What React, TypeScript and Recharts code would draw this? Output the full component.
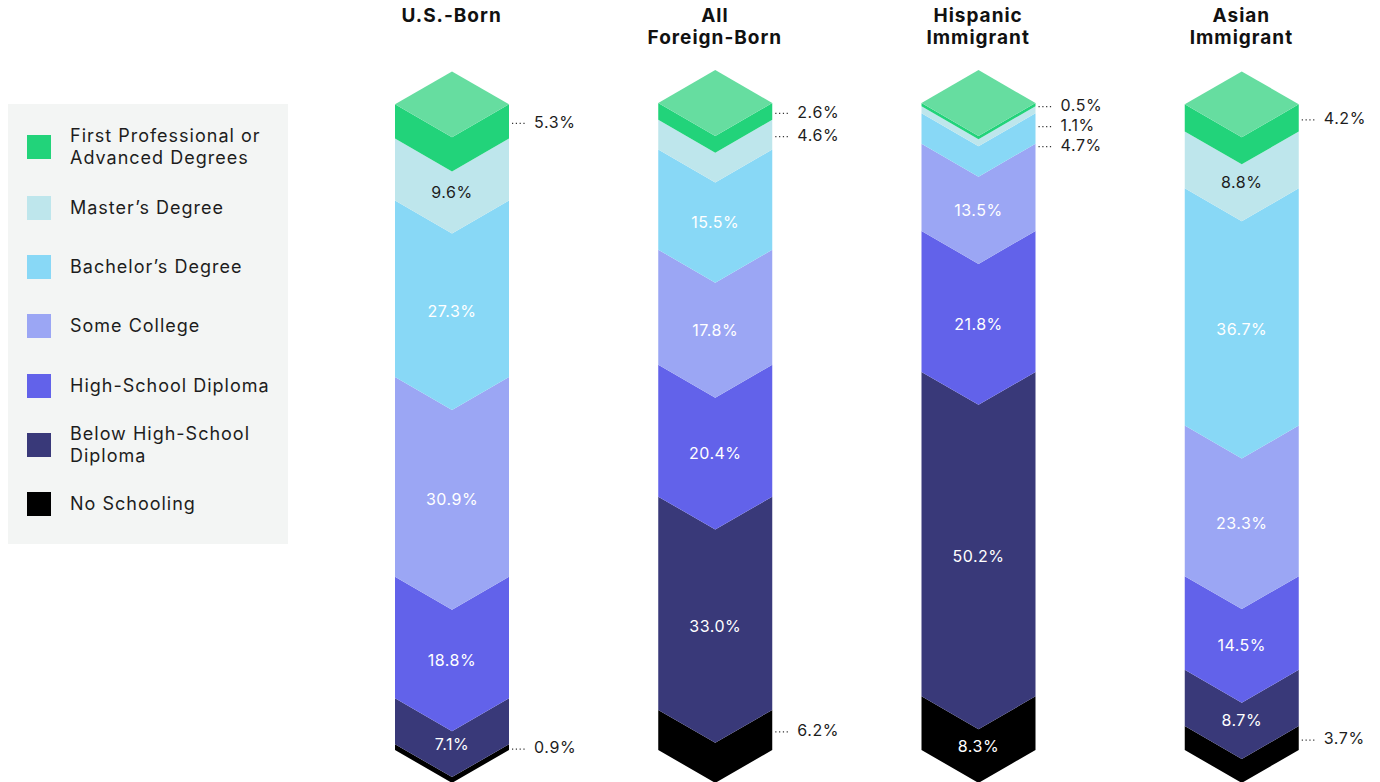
import React from 'react';
import { BarChart, Bar, XAxis, YAxis, LabelList } from 'recharts';

const groups = ['U.S.-Born', 'All Foreign-Born', 'Hispanic Immigrant', 'Asian Immigrant'];
const titleLines = [['U.S.-Born'], ['All', 'Foreign-Born'], ['Hispanic', 'Immigrant'], ['Asian', 'Immigrant']];

// values per group, in % (bottom of stack first)
const noSchooling = [0.9, 6.2, 8.3, 3.7];
const belowHS = [7.1, 33.0, 50.2, 8.7];
const hsDiploma = [18.8, 20.4, 21.8, 14.5];
const someCollege = [30.9, 17.8, 13.5, 23.3];
const bachelors = [27.3, 15.5, 4.7, 36.7];
const masters = [9.6, 4.6, 1.1, 8.8];
const professional = [5.3, 2.6, 0.5, 4.2];

const series = [
  { key: 'noSchooling', name: 'No Schooling', color: '#000000' },
  { key: 'belowHS', name: 'Below High-School Diploma', color: '#393979' },
  { key: 'hsDiploma', name: 'High-School Diploma', color: '#6262EA' },
  { key: 'someCollege', name: 'Some College', color: '#9BA6F4' },
  { key: 'bachelors', name: 'Bachelor\u2019s Degree', color: '#88D8F6' },
  { key: 'masters', name: 'Master\u2019s Degree', color: '#BEE6EC' },
  { key: 'professional', name: 'First Professional or Advanced Degrees', color: '#22D37A' },
];

const legendItems = [
  { lines: ['First Professional or', 'Advanced Degrees'], color: '#22D37A', cy: 147 },
  { lines: ['Master\u2019s Degree'], color: '#BEE6EC', cy: 208 },
  { lines: ['Bachelor\u2019s Degree'], color: '#88D8F6', cy: 267 },
  { lines: ['Some College'], color: '#9BA6F4', cy: 326 },
  { lines: ['High-School Diploma'], color: '#6262EA', cy: 386 },
  { lines: ['Below High-School', 'Diploma'], color: '#393979', cy: 445 },
  { lines: ['No Schooling'], color: '#000000', cy: 504 },
];

const data = groups.map((g, i) => ({
  group: g,
  noSchooling: noSchooling[i],
  belowHS: belowHS[i],
  hsDiploma: hsDiploma[i],
  someCollege: someCollege[i],
  bachelors: bachelors[i],
  masters: masters[i],
  professional: professional[i],
}));

const FONT = 'Inter, "DejaVu Sans", sans-serif';
const OUTSIDE_LIMIT = 7;
const topDown = [...series].reverse();

const chevronDepth = (w: number) => (w / 2) * Math.tan(Math.PI / 6);

const Chevron = (props: any) => {
  const { x, y, width, height, fill, isTop } = props;
  if (width == null || height == null) return null;
  const d = chevronDepth(width);
  const cx = x + width / 2;
  const body = `${x},${y} ${cx},${y + d} ${x + width},${y} ${x + width},${y + height} ${cx},${y + height + d} ${x},${y + height}`;
  return (
    <g>
      <polygon points={body} fill={fill} />
      {isTop && (
        <polygon points={`${x},${y} ${cx},${y - d} ${x + width},${y} ${cx},${y + d}`} fill="#66DDA0" />
      )}
    </g>
  );
};

const makeLabel = (key: string) => (props: any) => {
  const vb = props.viewBox || props;
  const { x, y, width, height } = vb;
  const i = props.index;
  const value = data[i] ? (data[i] as any)[key] : Number(props.value);
  if (!value || height == null) return null;
  const unit = Math.abs(height) / value;
  const top = Math.min(y, y + height);
  if (value >= OUTSIDE_LIMIT) {
    const fillText = key === 'masters' ? '#1d1d1d' : '#ffffff';
    return (
      <text x={x + width / 2} y={top + Math.abs(height) / 2 + 24} fill={fillText} fontSize={16}
        fontFamily={FONT} textAnchor="middle" dominantBaseline="middle" letterSpacing={0.5}>
        {value.toFixed(1)}%
      </text>
    );
  }
  // place outside labels top-down, keeping them apart
  let cum = 0;
  let prev = -Infinity;
  let pos = 0;
  const gap = 20 / unit;
  for (const s of topDown) {
    const v = (data[i] as any)[s.key];
    if (v < OUTSIDE_LIMIT) {
      const c = Math.max(cum + v / 2, prev + gap);
      if (s.key === key) { pos = c; break; }
      prev = c;
    }
    cum += v;
  }
  const ly = top + (pos - cum) * unit + 2;
  const rx = x + width;
  return (
    <g>
      <line x1={rx + 3} x2={rx + 17} y1={ly} y2={ly} stroke="#333" strokeWidth={1.2} strokeDasharray="1.2 2.6" />
      <text x={rx + 25} y={ly} fill="#1d1d1d" fontSize={16} fontFamily={FONT} dominantBaseline="middle" letterSpacing={0.6}>
        {value.toFixed(1)}%
      </text>
    </g>
  );
};

const TitleTick = (props: any) => {
  const { x, payload } = props;
  const lines = titleLines[payload.index] || [payload.value];
  return (
    <g>
      {lines.map((l: string, k: number) => (
        <text key={k} x={x} y={17 + k * 22} textAnchor="middle" dominantBaseline="middle"
          fontFamily={FONT} fontWeight={700} fontSize={19} letterSpacing={1} fill="#111">
          {l}
        </text>
      ))}
    </g>
  );
};

export default function App() {
  return (
    <div style={{ position: 'absolute', left: 0, top: 0, width: 1380, height: 782, background: '#fff', overflow: 'hidden', fontFamily: FONT }}>
      <div style={{ position: 'absolute', left: 8, top: 104, width: 280, height: 440, background: '#F3F5F4' }}>
        {legendItems.map((it) => (
          <div key={it.lines[0]}>
            <div style={{ position: 'absolute', left: 19, top: it.cy - 104 - 12, width: 24, height: 24, background: it.color }} />
            <div style={{ position: 'absolute', left: 62, top: it.cy - 104 - (it.lines.length * 22) / 2, fontSize: 18, lineHeight: '22px', color: '#1d1d1d', letterSpacing: 1, whiteSpace: 'nowrap' }}>
              {it.lines.map((l) => <div key={l}>{l}</div>)}
            </div>
          </div>
        ))}
      </div>
      <BarChart width={1380} height={782} data={data} margin={{ top: 43, right: 7, bottom: 32, left: 320 }}
        style={{ position: 'absolute', left: 0, top: 0 }}>
        <XAxis dataKey="group" orientation="top" height={60} axisLine={false} tickLine={false} tick={<TitleTick />} interval={0} />
        <YAxis hide domain={[0, 'dataMax']} type="number" />
        {series.map((s) => (
          <Bar key={s.key} dataKey={s.key} name={s.name} stackId="a" fill={s.color} barSize={114}
            isAnimationActive={false}
            shape={(p: any) => <Chevron {...p} fill={s.color} isTop={s.key === 'professional'} />}>
            <LabelList dataKey={s.key} content={makeLabel(s.key)} />
          </Bar>
        ))}
      </BarChart>
    </div>
  );
}
